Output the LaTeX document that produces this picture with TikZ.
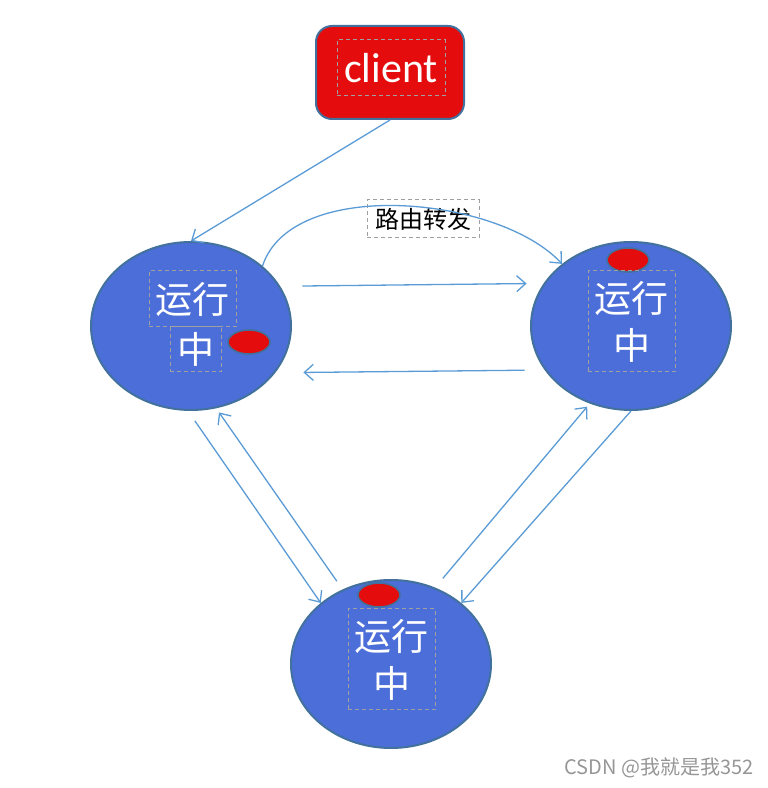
\documentclass[tikz,border=0pt]{standalone}
\usepackage{fontspec}
\setmainfont{Carlito}
\newfontfamily\cjk{Noto Sans CJK SC}
\usetikzlibrary{shapes.geometric, arrows.meta}
\definecolor{nodeblue}{RGB}{76,110,216}
\definecolor{edgeblue}{RGB}{65,113,156}
\definecolor{dotred}{RGB}{228,12,12}
\definecolor{linkblue}{RGB}{91,155,213}
\definecolor{boxgray}{RGB}{160,160,160}
\definecolor{markgray}{RGB}{150,150,150}

\begin{document}
\begin{tikzpicture}[x=0.5pt, y=0.5pt]
\tikzstyle{server} = [ellipse, minimum width=100pt, minimum height=84pt, inner sep=0pt, draw=edgeblue, line width=1pt, fill=nodeblue]
\tikzstyle{dot} = [ellipse, minimum width=21pt, minimum height=12pt, inner sep=0pt, draw=edgeblue, line width=0.8pt, fill=dotred]
\tikzstyle{clientbox} = [rectangle, rounded corners=8pt, minimum width=74pt, minimum height=46.5pt, draw=edgeblue, line width=1pt, fill=dotred]
\tikzstyle{textbox} = [rectangle, draw=boxgray, dash pattern=on 2pt off 1.5pt, line width=0.5pt, inner sep=0pt, text centered, text=white, align=center, font=\cjk\fontsize{18.5pt}{23.5pt}\selectfont]
\tikzstyle{arrow} = [draw=linkblue, line width=0.65pt, -{Straight Barb[length=4.5pt,width=8pt]}]

\useasboundingbox (0,0) rectangle (767,788);

\node (client) [clientbox] at (390,715.5) {};
\node (clienttext) [textbox, minimum width=54pt, minimum height=28pt, font=\fontsize{21pt}{24pt}\selectfont] at (391,720) {client};

\node (left) [server] at (191,462) {};
\node (right) [server] at (631,462) {};
\node (bottom) [server] at (391,124) {};

\node (leftdot) [dot] at (249,446) {};
\node (rightdot) [dot] at (628,528) {};
\node (bottomdot) [dot] at (379,193) {};

\node (lefttop) [textbox, minimum width=43.5pt, minimum height=28pt] at (192.5,489) {运行};
\node (leftbottom) [textbox, minimum width=25.5pt, minimum height=22.5pt] at (195.5,438.5) {中};
\node (righttext) [textbox, minimum width=43.5pt, minimum height=50.5pt] at (631.5,466.5) {运行\\中};
\node (bottomtext) [textbox, minimum width=43.5pt, minimum height=50.5pt] at (391.5,128.5) {运行\\中};

\node (route) [textbox, minimum width=56pt, minimum height=19pt, text=black, font=\cjk\fontsize{12pt}{14pt}\selectfont] at (423,569) {路由转发};

\draw [arrow] (client.south) -- (left.north);
\draw [arrow] (left.40) to[out=72, in=133, looseness=0.8] (right.138);
\draw [arrow, shorten <=11pt, shorten >=8.5pt] (left.24) -- (right.154);
\draw [arrow, shorten <=10pt, shorten >=14pt] (right.207) -- (left.331);

\draw [arrow, shorten <=6pt] (left.268) -- (bottom.139);
\draw [arrow, shorten <=5pt, shorten >=2.5pt] (bottom.123) -- (left.287);
\draw [arrow, shorten <=6pt, shorten >=2pt] (bottom.60) -- (right.242);
\draw [arrow] (right.south) -- (bottom.41);

\node (mark) [text=markgray, font=\cjk\fontsize{10pt}{12pt}\selectfont] at (659,20) {CSDN @我就是我352};
\end{tikzpicture}
\end{document}
